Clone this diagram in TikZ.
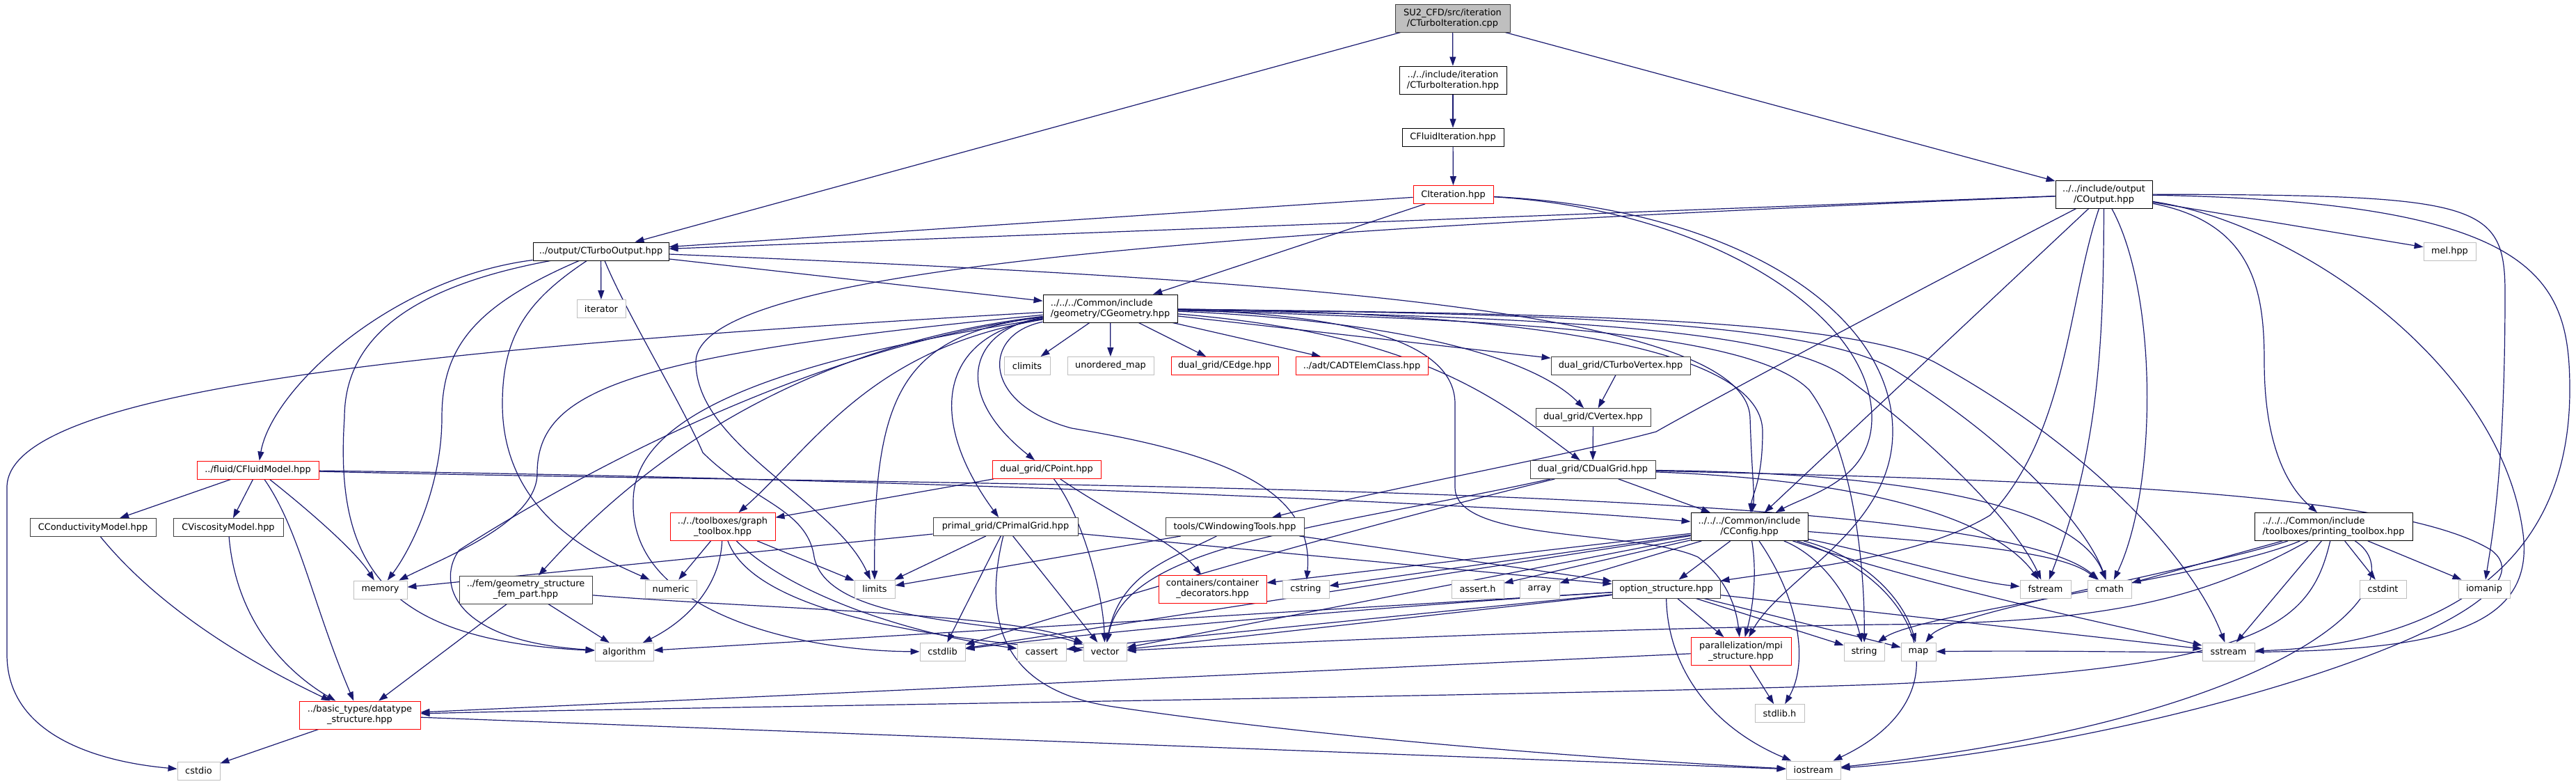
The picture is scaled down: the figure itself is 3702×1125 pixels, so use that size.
\documentclass[tikz,border=0pt]{standalone}
\usepackage{fontspec}
\setmainfont{DejaVu Sans}
\usetikzlibrary{arrows.meta}
\definecolor{edgec}{HTML}{191970}
\definecolor{extc}{HTML}{BFBFBF}
\definecolor{redc}{HTML}{FF0000}
\definecolor{dkc}{HTML}{404040}
\pgfdeclarelayer{bg}
\pgfsetlayers{bg,main}
\newcommand\nfont{\fontsize{12.9}{15}\selectfont}
\tikzset{
 nb/.style={rectangle, inner sep=0pt, minimum height=26pt, align=center, fill=white, font=\nfont, line width=0.9pt},
 two/.style={minimum height=40pt},
 blk/.style={nb, draw=black},
 dk/.style={nb, draw=dkc},
 rd/.style={nb, draw=redc},
 ext/.style={nb, draw=extc},
 wd/.style={minimum width=#1pt},
 e/.style={draw=edgec, line width=1.2pt, -{Triangle[length=13pt,width=9pt]}}
}
\begin{document}
\begin{tikzpicture}[x=1pt,y=-1pt]
\useasboundingbox (0,0) rectangle (3702,1125);
% ---------- nodes ----------
\node[nb,draw=dkc,fill=extc,two,wd=165] (root) at (2087.5,26) {SU2\_CFD/src/iteration\\/CTurboIteration.cpp};
\node[blk,two,wd=154] (cti) at (2088,115) {../../include/iteration\\/CTurboIteration.hpp};
\node[blk,wd=146] (cfi) at (2088,197) {CFluidIteration.hpp};
\node[rd,wd=115] (cit) at (2088.5,279.5) {CIteration.hpp};
\node[blk,two,wd=139] (cout) at (3023.5,279) {../../include/output\\/COutput.hpp};
\node[blk,wd=195] (cto) at (863.5,361) {../output/CTurboOutput.hpp};
\node[ext,wd=75] (mel) at (3520.5,361) {mel.hpp};
\node[ext,wd=70] (iter) at (864,443.5) {iterator};
\node[blk,two,wd=193,align=left] (geo) at (1595.5,443) {../../../Common/include\\/geometry/CGeometry.hpp};
\node[ext,wd=66] (climits) at (1476,525.5) {climits};
\node[ext,wd=124] (umap) at (1596,525.5) {unordered\_map};
\node[rd,wd=154] (cedge) at (1760,525.5) {dual\_grid/CEdge.hpp};
\node[rd,wd=190] (cadt) at (1957,525.5) {../adt/CADTElemClass.hpp};
\node[dk,wd=200] (ctv) at (2329,525.5) {dual\_grid/CTurboVertex.hpp};
\node[dk,wd=165] (cvx) at (2289.5,599.5) {dual\_grid/CVertex.hpp};
\node[rd,wd=156] (cpt) at (1504,674.5) {dual\_grid/CPoint.hpp};
\node[dk,wd=180] (cdg) at (2289,674.5) {dual\_grid/CDualGrid.hpp};
\node[rd,wd=175] (cfm) at (370.5,675) {../fluid/CFluidModel.hpp};
\node[dk,wd=181] (ccm) at (133.5,757.5) {CConductivityModel.hpp};
\node[dk,wd=158] (cvm) at (328,757.5) {CViscosityModel.hpp};
\node[rd,two,wd=151] (gtb) at (1038.5,756.5) {../../toolboxes/graph\\\_toolbox.hpp};
\node[dk,wd=208] (cpg) at (1445,756.5) {primal\_grid/CPrimalGrid.hpp};
\node[dk,wd=199] (cwt) at (1774.5,756.5) {tools/CWindowingTools.hpp};
\node[blk,two,wd=168] (cfg) at (2514,756.5) {../../../Common/include\\/CConfig.hpp};
\node[blk,two,wd=227,align=left] (ptb) at (3353.5,756.5) {../../../Common/include\\/toolboxes/printing\_toolbox.hpp};
\node[ext,wd=77] (memory) at (546.5,847) {memory};
\node[dk,two,wd=191] (fem) at (755.5,847) {../fem/geometry\_structure\\\_fem\_part.hpp};
\node[ext,wd=74] (numeric) at (964,846) {numeric};
\node[ext,wd=58] (limits) at (1257,846) {limits};
\node[rd,two,wd=155] (cdec) at (1742.5,846) {containers/container\\\_decorators.hpp};
\node[ext,wd=67] (cstring) at (1876.5,846) {cstring};
\node[ext,wd=75] (asserth) at (2123.5,846) {assert.h};
\node[ext,wd=57] (array) at (2212.5,846) {array};
\node[dk,wd=155] (opt) at (2394.5,846) {option\_structure.hpp};
\node[ext,wd=73] (fstream) at (2939.5,846) {fstream};
\node[ext,wd=63] (cmath) at (3031.5,846) {cmath};
\node[ext,wd=67] (cstdint) at (3424.5,846) {cstdint};
\node[ext,wd=74] (iomanip) at (3570,846) {iomanip};
\node[ext,wd=84] (algorithm) at (897,936.5) {algorithm};
\node[ext,wd=65] (cstdlib) at (1354.5,936) {cstdlib};
\node[ext,wd=70] (cassert) at (1497,936) {cassert};
\node[ext,wd=62] (vector) at (1588,936) {vector};
\node[rd,two,wd=144] (mpi) at (2502,935.5) {parallelization/mpi\\\_structure.hpp};
\node[ext,wd=58] (string) at (2679,936) {string};
\node[ext,wd=50] (map) at (2757,936) {map};
\node[ext,wd=75] (sstream) at (3202.5,936) {sstream};
\node[rd,two,wd=174] (dts) at (517,1027) {../basic\_types/datatype\\\_structure.hpp};
\node[ext,wd=71] (stdlibh) at (2557.5,1024.5) {stdlib.h};
\node[ext,wd=61] (cstdio) at (285.5,1107) {cstdio};
\node[ext,wd=78] (iostream) at (2606,1106) {iostream};
% ---------- edges ----------
\begin{pgfonlayer}{bg}
\fill[white] (0,0) rectangle (3702,1125);
\draw[e] (root) -- (cti);
\draw[e] (cti) -- (cfi);
\draw[e] (cfi) -- (cit);
\draw[e] (root) -- (cto);
\draw[e] (root) -- (cout);
\draw[e] (cit) -- (geo);
\draw[e] (cit) -- (cto);
\draw[e] (cit) .. controls (2450,300) and (2690,450) .. (2690,600) .. controls (2690,690) and (2600,710) .. (cfg);
\draw[e] (cit) .. controls (2500,300) and (2720,450) .. (2720,620) .. controls (2720,760) and (2560,830) .. (mpi);
% COutput
\draw[e] (cout) -- (cto);
\draw[e] (cout) .. controls (1800,330) and (1000,380) .. (1000,520) .. controls (1000,640) and (1200,720) .. (limits);
\draw[e] (cout) .. controls (2750,420) and (2450,580) .. (2380,620) .. controls (2250,655) and (2000,700) .. (cwt);
\draw[e] (cout) -- (cfg);
\draw[e] (cout) .. controls (2972,430) and (2972,620) .. (2860,740) .. controls (2760,800) and (2600,815) .. (opt);
\draw[e] (cout) .. controls (3023,500) and (3015,650) .. (fstream);
\draw[e] (cout) .. controls (3101,420) and (3101,700) .. (cmath);
\draw[e] (cout) -- (mel);
\draw[e] (cout) .. controls (3560,280) and (3600,290) .. (3600,420) .. controls (3600,680) and (3580,780) .. (iomanip);
\draw[e] (cout) .. controls (3650,290) and (3693,400) .. (3693,560) .. controls (3693,880) and (3400,930) .. (sstream);
\draw[e] (cout) .. controls (3240,320) and (3254,420) .. (3254,520) .. controls (3254,660) and (3300,710) .. (ptb);
\draw[e] (cout) .. controls (3300,320) and (3590,520) .. (3625,760) .. controls (3660,980) and (3300,930) .. (map);
% CTurboOutput
\draw[e] (cto) -- (geo);
\draw[e] (cto) .. controls (1800,400) and (2510,440) .. (2515,600) .. controls (2518,690) and (2522,710) .. (cfg);
\draw[e] (cto) -- (iter);
\draw[e] (cto) .. controls (560,400) and (390,560) .. (cfm);
\draw[e] (cto) .. controls (680,440) and (635,500) .. (635,600) .. controls (635,700) and (590,790) .. (memory);
\draw[e] (cto) .. controls (760,430) and (722,480) .. (722,580) .. controls (722,740) and (860,800) .. (numeric);
\draw[e] (cto) .. controls (600,410) and (495,480) .. (495,600) .. controls (480,820) and (560,920) .. (algorithm);
\draw[e] (cto) .. controls (900,450) and (980,580) .. (1010,650) .. controls (1080,720) and (1160,730) .. (1170,800) .. controls (1190,900) and (1450,890) .. (vector);
% CFluidModel
\draw[e] (cfm) -- (ccm);
\draw[e] (cfm) -- (cvm);
\draw[e] (cfm) .. controls (430,760) and (450,870) .. (dts);
\draw[e] (cfm) .. controls (440,730) and (510,790) .. (memory);
\draw[e] (cfm) .. controls (1200,685) and (2100,720) .. (cfg);
\draw[e] (cfm) .. controls (1400,700) and (2850,690) .. (cmath);
\draw[e] (ccm) .. controls (250,900) and (420,980) .. (dts);
\draw[e] (cvm) .. controls (340,900) and (420,970) .. (dts);
\draw[e] (dts) -- (cstdio);
\draw[e] (dts) -- (iostream);
% CGeometry
\draw[e] (geo) -- (climits);
\draw[e] (geo) -- (umap);
\draw[e] (geo) -- (cedge);
\draw[e] (geo) -- (cadt);
\draw[e] (geo) -- (ctv);
\draw[e] (geo) .. controls (2000,460) and (2200,510) .. (cvx);
\draw[e] (geo) .. controls (2050,480) and (2160,580) .. (cdg);
\draw[e] (ctv) -- (cvx);
\draw[e] (cvx) -- (cdg);
\draw[e] (geo) .. controls (1400,470) and (1360,560) .. (cpt);
\draw[e] (geo) .. controls (1250,500) and (1170,640) .. (gtb);
\draw[e] (geo) .. controls (1350,480) and (1330,600) .. (cpg);
\draw[e] (geo) .. controls (1200,490) and (960,620) .. (fem);
\draw[e] (geo) .. controls (1300,480) and (1255,560) .. (limits);
\draw[e] (geo) .. controls (900,510) and (772,560) .. (772,680) .. controls (772,750) and (640,800) .. (memory);
\draw[e] (geo) .. controls (1150,500) and (800,700) .. (660,790) .. controls (630,830) and (640,920) .. (algorithm);
\draw[e] (geo) .. controls (600,500) and (10,560) .. (10,700) -- (10,940) .. controls (10,1060) and (150,1095) .. (cstdio);
\draw[e] (geo) .. controls (1100,520) and (910,600) .. (910,720) .. controls (905,880) and (1150,935) .. (cstdlib);
\draw[e] (geo) .. controls (1410,480) and (1410,580) .. (1540,615) .. controls (1750,650) and (1890,700) .. (cstring);
\draw[e] (geo) .. controls (1900,450) and (2091,480) .. (2091,580) -- (2091,700) .. controls (2091,780) and (2350,760) .. (2440,800) .. controls (2480,830) and (2495,870) .. (mpi);
\draw[e] (geo) .. controls (2300,450) and (2533,520) .. (2533,620) .. controls (2533,690) and (2518,710) .. (cfg);
\draw[e] (geo) .. controls (2200,455) and (2550,470) .. (2650,540) .. controls (2800,650) and (2900,760) .. (fstream);
\draw[e] (geo) .. controls (2200,450) and (2600,460) .. (2720,530) .. controls (2900,640) and (3000,760) .. (cmath);
\draw[e] (geo) .. controls (2200,450) and (2650,455) .. (2780,520) .. controls (3000,640) and (3150,800) .. (sstream);
\draw[e] (geo) .. controls (2200,460) and (2520,480) .. (2600,560) .. controls (2660,640) and (2680,800) .. (string);
% CDualGrid
\draw[e] (cdg) -- (cfg);
\draw[e] (cdg) .. controls (1900,770) and (1600,860) .. (cstdlib);
\draw[e] (cdg) .. controls (1900,760) and (1620,780) .. (vector);
\draw[e] (cdg) .. controls (2700,690) and (2870,750) .. (fstream);
\draw[e] (cdg) .. controls (2800,680) and (2990,740) .. (cmath);
\draw[e] (cdg) .. controls (3000,690) and (3450,710) .. (3580,790) .. controls (3700,880) and (3100,1070) .. (iostream);
% CPoint
\draw[e] (cpt) -- (gtb);
\draw[e] (cpt) .. controls (1555,740) and (1585,850) .. (vector);
\draw[e] (cpt) .. controls (1600,740) and (1690,780) .. (cdec);
% CPrimalGrid
\draw[e] (cpg) -- (limits);
\draw[e] (cpg) -- (cstdlib);
\draw[e] (cpg) -- (vector);
\draw[e] (cpg) .. controls (1415,880) and (1430,990) .. (1600,1015) .. controls (1900,1060) and (2300,1090) .. (iostream);
\draw[e] (cpg) -- (memory);
\draw[e] (cpg) -- (opt);
% CWindowingTools
\draw[e] (cwt) -- (limits);
\draw[e] (cwt) .. controls (1690,800) and (1610,820) .. (vector);
\draw[e] (cwt) -- (opt);
% graph toolbox
\draw[e] (gtb) -- (numeric);
\draw[e] (gtb) -- (limits);
\draw[e] (gtb) .. controls (1035,840) and (990,890) .. (algorithm);
\draw[e] (gtb) .. controls (1130,850) and (1300,910) .. (cassert);
\draw[e] (gtb) .. controls (1080,870) and (1300,915) .. (vector);
% fem
\draw[e] (fem) -- (algorithm);
\draw[e] (fem) -- (dts);
\draw[e] (fem) .. controls (1100,875) and (1450,880) .. (vector);
% CConfig
\draw[e] (cfg) .. controls (2525,820) and (2520,870) .. (mpi);
\draw[e] (cfg) .. controls (2760,830) and (2830,1000) .. (iostream);
\draw[e] (cfg) .. controls (2585,860) and (2600,950) .. (stdlibh);
\draw[e] (cfg) .. controls (2620,800) and (2660,860) .. (string);
\draw[e] (cfg) .. controls (2680,800) and (2735,860) .. (map);
\draw[e] (cfg) .. controls (2720,800) and (2830,835) .. (fstream);
\draw[e] (cfg) .. controls (2800,780) and (2960,790) .. (cmath);
\draw[e] (cfg) .. controls (2800,850) and (3050,900) .. (sstream);
\draw[e] (cfg) -- (opt);
\draw[e] (cfg) -- (array);
\draw[e] (cfg) -- (asserth);
\draw[e] (cfg) -- (cstring);
\draw[e] (cfg) -- (cdec);
\draw[e] (cfg) -- (cstdlib);
\draw[e] (cfg) -- (vector);
% option_structure
\draw[e] (opt) -- (mpi);
\draw[e] (opt) .. controls (2396,950) and (2450,1040) .. (iostream);
\draw[e] (opt) -- (string);
\draw[e] (opt) -- (map);
\draw[e] (opt) -- (sstream);
\draw[e] (opt) .. controls (2000,870) and (1600,905) .. (cstdlib);
\draw[e] (opt) -- (vector);
\draw[e] (opt) -- (cassert);
\draw[e] (opt) -- (algorithm);
% mpi
\draw[e] (mpi) -- (dts);
\draw[e] (mpi) -- (stdlibh);
% printing toolbox
\draw[e] (ptb) -- (cmath);
\draw[e] (ptb) .. controls (3150,820) and (2800,880) .. (map);
\draw[e] (ptb) .. controls (3180,830) and (2760,880) .. (string);
\draw[e] (ptb) -- (sstream);
\draw[e] (ptb) -- (cstdint);
\draw[e] (ptb) -- (iomanip);
\draw[e] (ptb) .. controls (3480,840) and (3300,1030) .. (iostream);
\draw[e] (ptb) .. controls (3320,900) and (3250,960) .. (2700,983) .. controls (2200,1000) and (1000,1015) .. (dts);
\draw[e] (ptb) .. controls (3150,870) and (3000,895) .. (2700,897) .. controls (2200,905) and (1800,925) .. (vector);
\end{pgfonlayer}
\end{tikzpicture}
\end{document}
